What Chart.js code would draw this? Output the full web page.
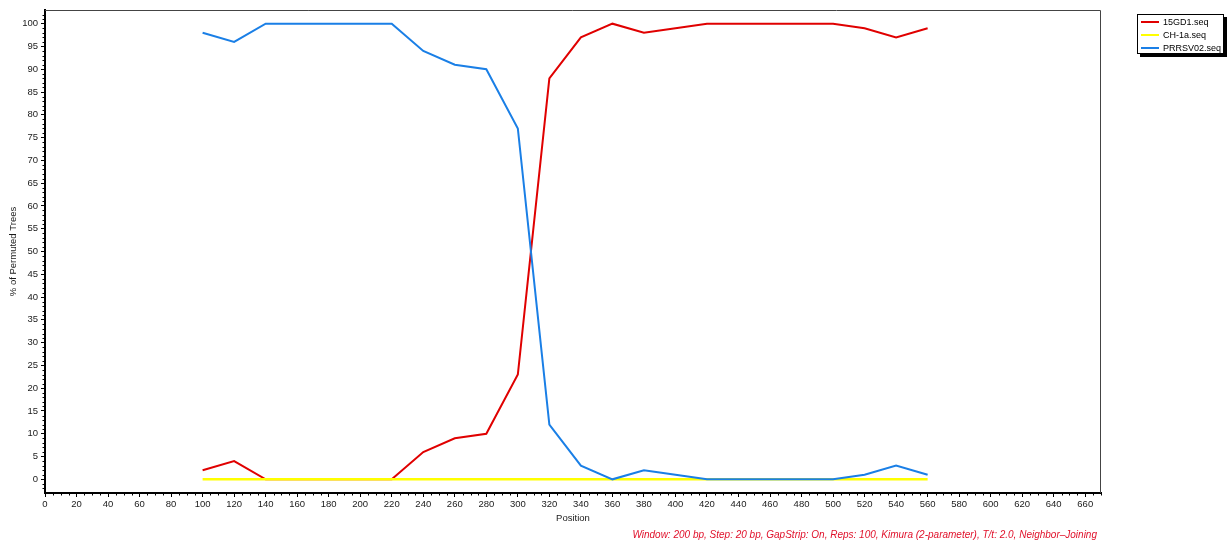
<!DOCTYPE html>
<html>
<head>
<meta charset="utf-8">
<script src="https://cdn.jsdelivr.net/npm/chart.js@4.4.1/dist/chart.umd.min.js"></script>
<style>
  html, body { margin: 0; padding: 0; background: #fff; }
  #wrap { position: relative; width: 1229px; height: 542px; font-family: "Liberation Sans", Arial, sans-serif; }
  #chart { position: absolute; left: 0; top: 0; }
  #legend {
    position: absolute; left: 1137px; top: 14px; width: 85px; height: 38px;
    border: 1px solid #000; background: #fff; box-shadow: 3px 3px 0 #000;
    font-size: 9px; color: #000;
  }
  #legend .row { position: absolute; left: 3px; height: 12px; line-height: 12px; white-space: nowrap; }
  #legend .sw { display: inline-block; width: 18px; height: 2px; vertical-align: middle; margin-right: 4px; position: relative; top: -1px; }
  #footer {
    position: absolute; right: 132px; top: 529px; font-size: 10px; font-style: italic;
    color: #e0102a; white-space: nowrap;
  }
</style>
</head>
<body>
<div id="wrap">
  <canvas id="chart" width="1229" height="542"></canvas>
  <div id="legend"></div>
  <div id="footer">Window: 200 bp, Step: 20 bp, GapStrip: On, Reps: 100, Kimura (2-parameter), T/t: 2.0, Neighbor–Joining</div>
</div>
<script>
// 位置（bp）與三條序列的置換樹百分比
const positions = [100, 120, 140, 160, 180, 200, 220, 240, 260, 280, 300, 320, 340, 360, 380, 400, 420, 440, 460, 480, 500, 520, 540, 560];
const gd1Values  = [2, 4, 0, 0, 0, 0, 0, 6, 9, 10, 23, 88, 97, 100, 98, 99, 100, 100, 100, 100, 100, 99, 97, 99];
const ch1aValues = [0, 0, 0, 0, 0, 0, 0, 0, 0, 0, 0, 0, 0, 0, 0, 0, 0, 0, 0, 0, 0, 0, 0, 0];
const prrsvValues = [98, 96, 100, 100, 100, 100, 100, 94, 91, 90, 77, 12, 3, 0, 2, 1, 0, 0, 0, 0, 0, 1, 3, 1];
const seriesNames = ["15GD1.seq", "CH-1a.seq", "PRRSV02.seq"];
const seriesColors = ["#e00000", "#ffff00", "#1a7fe6"];
const xTickValues = [0, 20, 40, 60, 80, 100, 120, 140, 160, 180, 200, 220, 240, 260, 280, 300, 320, 340, 360, 380, 400, 420, 440, 460, 480, 500, 520, 540, 560, 580, 600, 620, 640, 660];
const yTickValues = [0, 5, 10, 15, 20, 25, 30, 35, 40, 45, 50, 55, 60, 65, 70, 75, 80, 85, 90, 95, 100];

const TICK_FONT = { family: "'Liberation Sans', Arial, sans-serif", size: 9.5 };
const TEXT_COLOR = "#1a1a1a";

function toPoints(values) {
  return values.map((v, i) => ({ x: positions[i], y: v }));
}

// 次刻度與外框
const frameAndMinorTicks = {
  id: "frameAndMinorTicks",
  afterDraw(chart) {
    const { ctx, chartArea: a, scales } = chart;
    ctx.save();
    ctx.strokeStyle = "#444";
    ctx.lineWidth = 1;
    ctx.beginPath();
    ctx.moveTo(a.left, a.top + 0.5);
    ctx.lineTo(a.right - 0.5, a.top + 0.5);
    ctx.lineTo(a.right - 0.5, a.bottom);
    ctx.stroke();

    ctx.strokeStyle = "#000";
    ctx.beginPath();
    for (let v = 0; v <= scales.x.max; v += 5) {
      if (v % 20 === 0) continue;
      const px = Math.round(scales.x.getPixelForValue(v)) + 0.5;
      ctx.moveTo(px, a.bottom);
      ctx.lineTo(px, a.bottom + 2.5);
    }
    for (let v = -2; v <= 102; v += 1) {
      if (v % 5 === 0) continue;
      const py = Math.round(scales.y.getPixelForValue(v)) + 0.5;
      ctx.moveTo(a.left - 2.5, py);
      ctx.lineTo(a.left, py);
    }
    ctx.stroke();
    ctx.restore();
  },
};

const datasets = [gd1Values, ch1aValues, prrsvValues].map((vals, i) => ({
  label: seriesNames[i],
  data: toPoints(vals),
  borderColor: seriesColors[i],
  backgroundColor: seriesColors[i],
  borderWidth: i === 1 ? 2.5 : 2,
  pointRadius: 0,
  tension: 0,
  order: 3 - i,
}));

new Chart(document.getElementById("chart").getContext("2d"), {
  type: "line",
  data: { datasets },
  plugins: [frameAndMinorTicks],
  options: {
    responsive: false,
    animation: false,
    events: [],
    layout: { padding: { left: 0, right: 128, top: 10, bottom: 0 } },
    plugins: { legend: { display: false }, tooltip: { enabled: false } },
    scales: {
      x: {
        type: "linear",
        min: 0,
        max: 670,
        afterFit: (s) => { s.height = 49; },
        afterBuildTicks: (s) => { s.ticks = xTickValues.map((v) => ({ value: v })); },
        border: { color: "#000", width: 2 },
        grid: { drawOnChartArea: false, color: "#000", tickLength: 4 },
        ticks: {
          autoSkip: false,
          maxRotation: 0,
          padding: 2,
          color: TEXT_COLOR,
          font: TICK_FONT,
          callback: (v) => String(v),
        },
        title: {
          display: true,
          text: "Position",
          color: TEXT_COLOR,
          font: TICK_FONT,
          padding: { top: 0, bottom: 18 },
        },
      },
      y: {
        min: -3,
        max: 103,
        afterFit: (s) => { s.width = 45; },
        afterBuildTicks: (s) => { s.ticks = yTickValues.map((v) => ({ value: v })); },
        border: { color: "#000", width: 2 },
        grid: { drawOnChartArea: false, color: "#000", tickLength: 4 },
        ticks: {
          autoSkip: false,
          padding: 3,
          color: TEXT_COLOR,
          font: TICK_FONT,
          callback: (v) => String(v),
        },
        title: {
          display: true,
          text: "% of Permuted Trees",
          color: TEXT_COLOR,
          font: TICK_FONT,
          padding: { top: 8, bottom: 0 },
        },
      },
    },
  },
});

// 圖例（HTML）
const legendEl = document.getElementById("legend");
seriesNames.forEach((name, i) => {
  const row = document.createElement("div");
  row.className = "row";
  row.style.top = (1 + i * 13) + "px";
  row.innerHTML = '<span class="sw" style="background:' + seriesColors[i] + '"></span>' + name;
  legendEl.appendChild(row);
});
</script>
</body>
</html>
